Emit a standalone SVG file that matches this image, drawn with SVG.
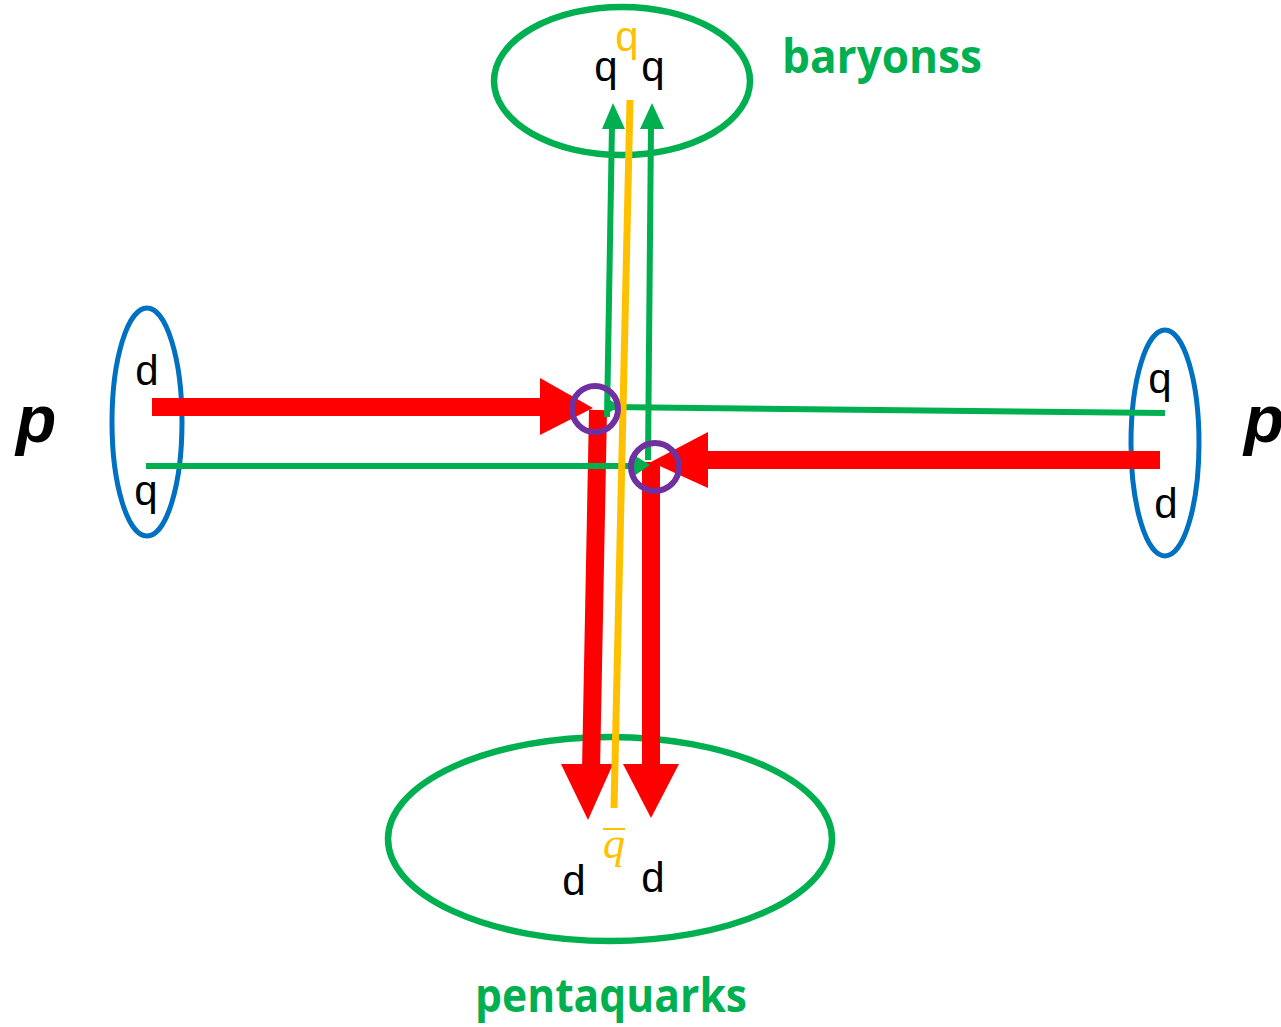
<svg xmlns="http://www.w3.org/2000/svg" width="1281" height="1027" viewBox="0 0 1281 1027">
<style>
.red{stroke:#FF0000;stroke-width:18;fill:none}
.redh{fill:#FF0000}
.grn{stroke:#00B050;stroke-width:6;fill:none}
.grnh{fill:#00B050}
.yel{stroke:#FFC000;stroke-width:7;fill:none}
.blue{stroke:#0070C0;stroke-width:5;fill:none}
.gell{stroke:#00B050;stroke-width:6.5;fill:none}
.pur{stroke:#7030A0;stroke-width:6;fill:none}
.q{font-family:"Liberation Sans",Arial,sans-serif;font-size:42px;fill:#000;text-anchor:middle}
.p{font-family:"Liberation Sans",Arial,sans-serif;font-size:66px;font-weight:bold;font-style:italic;fill:#000}
.lab{font-family:"Open Sans","Liberation Sans",sans-serif;font-size:46px;font-weight:bold;fill:#00B050}
</style>
<g id="baryons">
<ellipse class="gell" cx="622" cy="81" rx="128" ry="74"/>
<text class="q" x="606" y="81">q</text>
<text class="q" x="653" y="81">q</text>
<text class="q" x="627" y="51" style="fill:#FFC000">q</text>
</g>
<g id="pentaquarks">
<ellipse class="gell" cx="610" cy="839" rx="222" ry="102"/>
<text class="q" x="614" y="858" style="fill:#FFC000;font-family:'Liberation Serif',serif;font-style:italic;font-size:44px">q</text>
<line x1="603" y1="829" x2="625" y2="829" stroke="#FFC000" stroke-width="2"/>
<text class="q" x="574" y="895">d</text>
<text class="q" x="653" y="892">d</text>
</g>
<g id="proton-left">
<ellipse class="blue" cx="147" cy="422" rx="35" ry="114"/>
<text class="q" x="147" y="385">d</text>
<text class="q" x="146" y="505">q</text>
<text class="p" x="16" y="442">p</text>
</g>
<g id="proton-right">
<ellipse class="blue" cx="1165" cy="443" rx="34" ry="113"/>
<text class="q" x="1160" y="393">q</text>
<text class="q" x="1166" y="518">d</text>
<text class="p" x="1244" y="442">p</text>
</g>
<g id="connectors">
<line class="red" x1="152" y1="407" x2="545" y2="407"/>
<polygon class="redh" points="540,378 593,408 540,435"/>
<line class="red" x1="1160" y1="460" x2="700" y2="460"/>
<polygon class="redh" points="708,432 651,462 708,488"/>
<line class="red" x1="598" y1="410" x2="591" y2="770"/>
<polygon class="redh" points="561,764 613,764 588,820"/>
<line class="red" x1="651" y1="462" x2="651" y2="770"/>
<polygon class="redh" points="623,764 679,764 651,818"/>
<line class="grn" x1="607" y1="417" x2="612" y2="125"/>
<polygon class="grnh" points="602,129 625,129 613,103"/>
<line class="grn" x1="648" y1="460" x2="651" y2="125"/>
<polygon class="grnh" points="640,129 664,129 652,103"/>
<line class="grn" x1="146" y1="466" x2="636" y2="466"/>
<polygon class="grnh" points="634,455 650,465 634,476"/>
<line class="grn" x1="1165" y1="413" x2="610" y2="407"/>
<polygon class="grnh" points="605,397 620,406 605,415"/>
<line class="yel" x1="630" y1="100" x2="614" y2="808"/>
<circle class="pur" cx="595" cy="409" r="23"/>
<circle class="pur" cx="655" cy="467" r="24"/>
</g>
<text class="lab" x="782" y="73" textLength="200" lengthAdjust="spacingAndGlyphs">baryonss</text>
<text class="lab" x="475" y="1012" textLength="272" lengthAdjust="spacingAndGlyphs">pentaquarks</text>
</svg>
